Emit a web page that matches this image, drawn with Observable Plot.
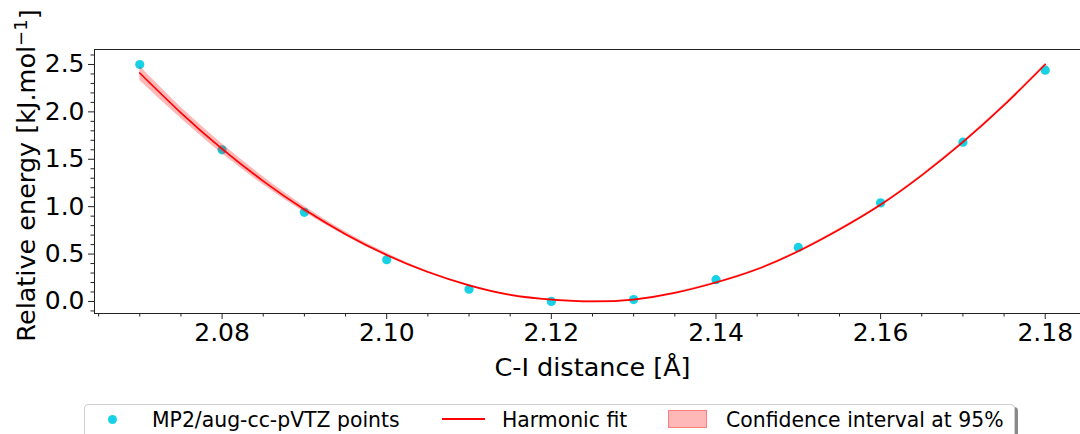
<!DOCTYPE html>
<html>
<head>
<meta charset="utf-8">
<script src="https://cdn.jsdelivr.net/npm/d3@7"></script>
<script src="https://cdn.jsdelivr.net/npm/@observablehq/plot@0.6"></script>
<style>
  html, body { margin: 0; padding: 0; background: #fff; overflow: hidden; width: 1080px; height: 434px; }
  #chart { position: absolute; left: 0; top: 0; width: 1100px; }
  #chart svg { max-width: none !important; }
  #legend { position: absolute; left: 84px; top: 404px; width: 929px; height: 44px; border: 1px solid #cfcfcf; border-radius: 4px; background: #fff; box-shadow: 3px 3px 0 #8a8a8a; font-family: "DejaVu Sans", sans-serif; font-size: 20.4px; color: #000; }
  #legend .item { position: absolute; top: 1px; line-height: 28px; white-space: nowrap; }
  #legend .dot { position: absolute; width: 9px; height: 9px; border-radius: 50%; left: 23px; top: 10px; }
  #legend .ln { position: absolute; left: 357px; top: 13px; width: 43px; height: 2px; background: red; }
  #legend .patch { position: absolute; left: 583px; top: 5px; width: 39px; height: 18px; background: rgba(255,0,0,0.28); border: 1px solid rgba(255,0,0,0.32); box-sizing: border-box; }
</style>
</head>
<body>
<div id="chart"></div>
<div id="legend"></div>
<script>
// ---- data ----
const distances = [2.07, 2.08, 2.09, 2.10, 2.11, 2.12, 2.13, 2.14, 2.15, 2.16, 2.17, 2.18];
const energies  = [2.50, 1.60, 0.94, 0.44, 0.13, 0.00, 0.02, 0.23, 0.57, 1.04, 1.68, 2.44];

const fitX  = [2.070, 2.075, 2.080, 2.085, 2.090, 2.095, 2.100, 2.105, 2.110, 2.115, 2.120, 2.125,
               2.130, 2.135, 2.140, 2.145, 2.150, 2.155, 2.160, 2.165, 2.170, 2.175, 2.180];
const fitY  = [2.41, 1.99, 1.61, 1.27, 0.97, 0.71, 0.49, 0.31, 0.17, 0.07, 0.02, 0.00,
               0.02, 0.09, 0.20, 0.34, 0.53, 0.76, 1.02, 1.33, 1.68, 2.07, 2.50];
const ciLow = [2.33, 1.93, 1.56, 1.23, 0.94, 0.69, 0.475, 0.30, 0.163, 0.065, 0.012, -0.007,
               0.013, 0.083, 0.193, 0.333, 0.522, 0.751, 1.011, 1.32, 1.668, 2.057, 2.486];
const ciHigh= [2.48, 2.05, 1.665, 1.315, 1.005, 0.735, 0.51, 0.322, 0.179, 0.077, 0.027, 0.007,
               0.027, 0.097, 0.207, 0.347, 0.538, 0.769, 1.029, 1.34, 1.692, 2.083, 2.514];

const xMajor = [2.08, 2.10, 2.12, 2.14, 2.16, 2.18];
const xMinor = [2.065, 2.07, 2.075, 2.085, 2.09, 2.095, 2.105, 2.11, 2.115, 2.125, 2.13, 2.135,
                2.145, 2.15, 2.155, 2.165, 2.17, 2.175, 2.185];
const yMajor = [0.0, 0.5, 1.0, 1.5, 2.0, 2.5];
const yMinor = [-0.1, 0.1, 0.2, 0.3, 0.4, 0.6, 0.7, 0.8, 0.9, 1.1, 1.2, 1.3, 1.4,
                1.6, 1.7, 1.8, 1.9, 2.1, 2.2, 2.3, 2.4, 2.6];

const xLabel = "C-I distance [Å]";
const yLabelMain = "Relative energy [kJ.mol";
const yLabelSup = "−1";
const yLabelEnd = "]";
const legendLabels = ["MP2/aug-cc-pVTZ points", "Harmonic fit", "Confidence interval at 95%"];
const pointColor = "#17d2e6";

// ---- build tables ----
const points = distances.map((d, i) => ({x: d, y: energies[i]}));
const fit = fitX.map((d, i) => ({x: d, y: fitY[i], lo: ciLow[i], hi: ciHigh[i]}));

const FONT = "DejaVu Sans, sans-serif";
const chart = Plot.plot({
  width: 1100,
  height: 400,
  marginLeft: 94,
  marginRight: 10,
  marginTop: 49,
  marginBottom: 87,
  style: {fontFamily: FONT, fontSize: "25px", color: "#000", background: "transparent", maxWidth: "none"},
  x: {domain: [2.0645, 2.1855], axis: null},
  y: {domain: [-0.127, 2.658], axis: null},
  marks: [
    Plot.dot(points, {x: "x", y: "y", r: 4.6, fill: pointColor, stroke: "none"}),
    Plot.areaY(fit, {x: "x", y1: "lo", y2: "hi", fill: "red", fillOpacity: 0.28, curve: "natural"}),
    Plot.line(fit, {x: "x", y: "y", stroke: "red", strokeWidth: 1.7, curve: "natural"}),
    Plot.frame({stroke: "#222", strokeWidth: 1}),
    Plot.axisX({ticks: xMajor, tickFormat: d3.format(".2f"), tickSize: 6, tickPadding: 4, fontSize: 25, label: null, stroke: "#222"}),
    Plot.axisX({ticks: xMinor, tickFormat: () => "", tickSize: 3.5, label: null, stroke: "#222"}),
    Plot.axisY({ticks: yMajor, tickFormat: d3.format(".1f"), tickSize: 6, tickPadding: 4, fontSize: 25, label: null, stroke: "#222"}),
    Plot.axisY({ticks: yMinor, tickFormat: () => "", tickSize: 3.5, label: null, stroke: "#222"}),
    Plot.text([xLabel], {text: d => d, frameAnchor: "bottom", lineAnchor: "middle", textAnchor: "middle", dy: 54, fontSize: 25.5, fill: "#000"}),
    Plot.text([yLabelMain + yLabelSup + yLabelEnd], {text: d => d, frameAnchor: "left", textAnchor: "middle", lineAnchor: "middle", dx: -68, dy: -6, rotate: -90, fontSize: 25.5, fill: "#000", className: "ylab"})
  ]
});
chart.style.maxWidth = "none";
document.getElementById("chart").appendChild(chart);

// superscript for the y label unit
const yl = chart.querySelector(".ylab text");
if (yl) {
  yl.textContent = "";
  const ns = "http://www.w3.org/2000/svg";
  const t1 = document.createElementNS(ns, "tspan"); t1.textContent = yLabelMain;
  const t2 = document.createElementNS(ns, "tspan"); t2.textContent = yLabelSup;
  t2.setAttribute("dy", "-0.45em"); t2.setAttribute("font-size", "18");
  const t3 = document.createElementNS(ns, "tspan"); t3.textContent = yLabelEnd;
  t3.setAttribute("dy", "11.5");
  yl.append(t1, t2, t3);
}

// ---- legend ----
const lg = document.getElementById("legend");
lg.innerHTML =
  `<span class="dot" style="background:${pointColor}"></span>` +
  `<span class="item" style="left:67px">${legendLabels[0]}</span>` +
  `<span class="ln"></span>` +
  `<span class="item" style="left:417px">${legendLabels[1]}</span>` +
  `<span class="patch"></span>` +
  `<span class="item" style="left:641px">${legendLabels[2]}</span>`;
</script>
</body>
</html>
